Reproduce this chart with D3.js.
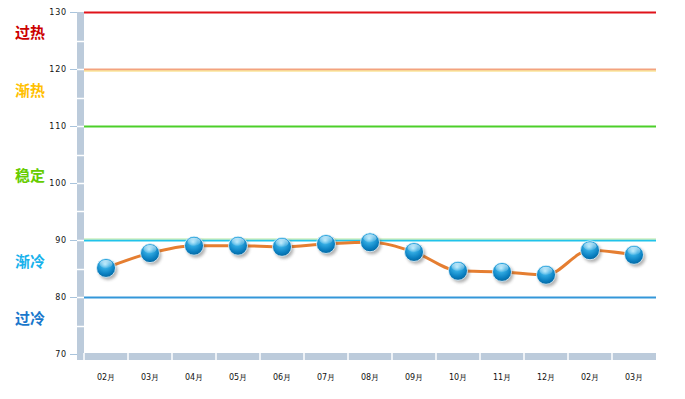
<!DOCTYPE html>
<html>
<head>
<meta charset="utf-8">
<script src="https://cdn.jsdelivr.net/npm/d3@7"></script>
<style>
body { margin: 0; background: #fff; }
svg { display: block; }
</style>
</head>
<body>
<div id="chart"></div>
<script>
var months = ["02月", "03月", "04月", "05月", "06月", "07月", "08月", "09月", "10月", "11月", "12月", "02月", "03月"];
var values = [85.1, 87.7, 89.0, 89.0, 88.8, 89.3, 89.6, 87.9, 84.6, 84.4, 83.9, 88.2, 87.4];
var yTicks = [70, 80, 90, 100, 110, 120, 130];
var levels = [130, 120, 110, 90, 80];
var levelNames = ["过热", "渐热", "稳定", "渐冷", "过冷"];
var levelNameValues = [125.5, 115.3, 100.4, 85.3, 75.3];

var width = 685, height = 399;
var plotLeft = 84, plotRight = 656, plotTop = 12, plotBottom = 354;

var svg = d3.select("#chart").append("svg")
    .attr("width", width)
    .attr("height", height);

var defs = svg.append("defs");
var grad = defs.append("radialGradient").attr("id", "ball")
    .attr("cx", "45%").attr("cy", "30%").attr("r", "70%");
grad.append("stop").attr("offset", "0%").attr("stop-color", "#9fe2fb");
grad.append("stop").attr("offset", "35%").attr("stop-color", "#2fa8e0");
grad.append("stop").attr("offset", "75%").attr("stop-color", "#0a7fc0");
grad.append("stop").attr("offset", "100%").attr("stop-color", "#05679f");
var shine = defs.append("linearGradient").attr("id", "shine")
    .attr("x1", 0).attr("y1", 0).attr("x2", 0).attr("y2", 1);
shine.append("stop").attr("offset", "0%").attr("stop-color", "#fff").attr("stop-opacity", 0.9);
shine.append("stop").attr("offset", "100%").attr("stop-color", "#fff").attr("stop-opacity", 0.1);
var shadow = defs.append("filter").attr("id", "shadow")
    .attr("x", "-50%").attr("y", "-50%").attr("width", "200%").attr("height", "200%");
shadow.append("feGaussianBlur").attr("stdDeviation", 1.5);

var x = d3.scaleBand().domain(d3.range(months.length)).range([plotLeft, plotRight]);
var y = d3.scaleLinear().domain([70, 130]).range([plotBottom, plotTop]);

// axis bars
svg.append("rect").attr("x", 77).attr("y", plotTop).attr("width", 7).attr("height", plotBottom + 6 - plotTop)
    .attr("fill", "#bccbdb");
svg.append("rect").attr("x", 77).attr("y", plotBottom - 1).attr("width", plotRight - 77).attr("height", 7)
    .attr("fill", "#bccbdb");
// separators on y bar every 5 units
svg.append("g").selectAll("line")
    .data(d3.range(75, 130, 5))
    .enter().append("line")
    .attr("x1", 77).attr("x2", 84)
    .attr("y1", function(d) { return Math.round(y(d)) + 0.5; })
    .attr("y2", function(d) { return Math.round(y(d)) + 0.5; })
    .attr("stroke", "#fff").attr("stroke-width", 1.5);
// separators on x bar
svg.append("g").selectAll("line")
    .data(d3.range(months.length))
    .enter().append("line")
    .attr("x1", function(d) { return x(d); })
    .attr("x2", function(d) { return x(d); })
    .attr("y1", plotBottom - 1).attr("y2", plotBottom + 6)
    .attr("stroke", "#fff").attr("stroke-width", 1.5);

// y axis
var yAxis = d3.axisLeft(y).tickValues(yTicks).tickSize(7).tickPadding(3);
var gy = svg.append("g").attr("transform", "translate(77,0)").call(yAxis);
gy.select(".domain").remove();
gy.selectAll(".tick line").attr("stroke", "#a9c4dc");
gy.selectAll(".tick text").attr("font-family", "Verdana, 'DejaVu Sans', sans-serif")
    .attr("font-size", 8).attr("fill", "#111").attr("letter-spacing", 0.8);

// x axis
var xAxis = d3.axisBottom(x).tickFormat(function(d) { return months[d]; }).tickSize(0).tickPadding(14);
var gx = svg.append("g").attr("transform", "translate(0," + (plotBottom + 6) + ")").call(xAxis);
gx.select(".domain").remove();
gx.selectAll(".tick text").attr("font-family", "Verdana, 'DejaVu Sans', sans-serif")
    .attr("font-size", 8).attr("fill", "#111");

// level lines
var levelColors = ["#e0131a", "#f3a37f", "#4ccf2a", "#21c3ea", "#3497d9"];
var levelUnder = [null, "#f7d86a", null, "#b6e6a0", null];
svg.append("g").selectAll("line")
    .data(levels)
    .enter().append("line")
    .attr("x1", plotLeft).attr("x2", plotRight)
    .attr("y1", function(d) { return Math.round(y(d)) + 0.5; })
    .attr("y2", function(d) { return Math.round(y(d)) + 0.5; })
    .attr("stroke", function(d, i) { return levelColors[i]; })
    .attr("stroke-width", 2);
svg.append("g").selectAll("line")
    .data(levels.filter(function(d, i) { return levelUnder[i]; }))
    .enter().append("line")
    .attr("x1", plotLeft).attr("x2", plotRight)
    .attr("y1", function(d) { var i = levels.indexOf(d); return Math.round(y(d)) + (i === 1 ? 2 : -1); })
    .attr("y2", function(d) { var i = levels.indexOf(d); return Math.round(y(d)) + (i === 1 ? 2 : -1); })
    .attr("stroke", function(d) { return levelUnder[levels.indexOf(d)]; })
    .attr("stroke-width", 1);

// level names
var nameColors = ["#cc0000", "#ffc000", "#66cc00", "#18b2ec", "#1a78cc"];
svg.append("g").selectAll("text")
    .data(levelNames)
    .enter().append("text")
    .attr("x", 15)
    .attr("y", function(d, i) { return y(levelNameValues[i]); })
    .attr("font-family", "'Noto Sans CJK SC', sans-serif")
    .attr("font-weight", "bold")
    .attr("font-size", 15)
    .attr("fill", function(d, i) { return nameColors[i]; })
    .text(function(d) { return d; });

// line
var cx = function(d, i) { return x(i) + x.bandwidth() / 2; };
var line = d3.line().x(cx).y(function(d) { return y(d); }).curve(d3.curveMonotoneX);
svg.append("path").datum(values)
    .attr("d", line)
    .attr("fill", "none")
    .attr("stroke", "#e57e31")
    .attr("stroke-width", 3);

// markers
var pts = svg.append("g").selectAll("g")
    .data(values)
    .enter().append("g")
    .attr("transform", function(d, i) { return "translate(" + cx(d, i) + "," + y(d) + ")"; });
pts.append("circle").attr("cx", 2).attr("cy", 2.5).attr("r", 9.5)
    .attr("fill", "#555").attr("opacity", 0.45).attr("filter", "url(#shadow)");
pts.append("circle").attr("r", 9.5)
    .attr("fill", "url(#ball)")
    .attr("stroke", "#e8f6fd").attr("stroke-width", 0.8);
pts.append("ellipse").attr("cx", 0).attr("cy", -4).attr("rx", 6.5).attr("ry", 4)
    .attr("fill", "url(#shine)").attr("opacity", 0.7);
</script>
</body>
</html>
